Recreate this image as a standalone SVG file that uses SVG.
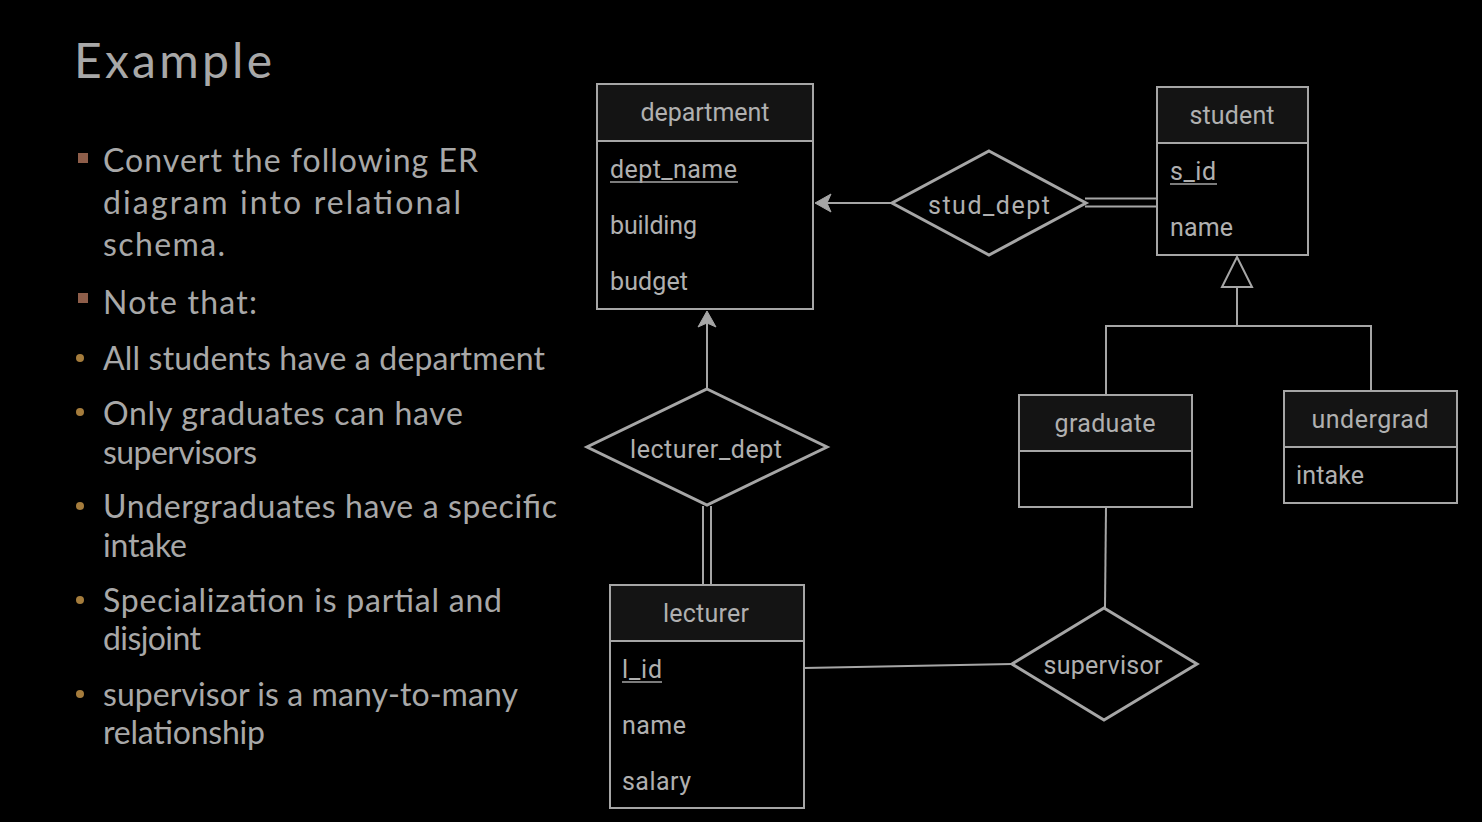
<svg xmlns="http://www.w3.org/2000/svg" width="1482" height="822" viewBox="0 0 1482 822">
<style>
.bg{fill:#000}
.slide{font-family:"Lato","Open Sans","DejaVu Sans",sans-serif;fill:#a8a8a8}
.b{font-size:32px}
.ent{fill:#000;stroke:#a6a6a6;stroke-width:2}
.hdr{fill:#141414;stroke:#a6a6a6;stroke-width:2}
.rel{fill:#000;stroke:#a6a6a6;stroke-width:3}
.t{font-family:"Roboto","Liberation Sans",Arial,sans-serif;font-size:25px;fill:#b0b0b0}
.c{text-anchor:middle}
.ln{stroke:#a6a6a6;stroke-width:2;fill:none}
.ul{stroke:#a6a6a6;stroke-width:1.5}
.ah{fill:#a6a6a6;stroke:#a6a6a6;stroke-width:1}
</style>
<rect class="bg" x="0" y="0" width="1482" height="822"/>

<g id="slide-text" class="slide">
<text x="74" y="78" font-size="48" textLength="198">Example</text>
<rect x="78" y="153" width="10" height="10" fill="#8e5e4a"/>
<rect x="78" y="293" width="10" height="10" fill="#8e5e4a"/>
<circle cx="80" cy="358" r="4" fill="#a57c3c"/>
<circle cx="80" cy="412" r="4" fill="#a57c3c"/>
<circle cx="80" cy="506" r="4" fill="#a57c3c"/>
<circle cx="80" cy="600" r="4" fill="#a57c3c"/>
<circle cx="80" cy="694" r="4" fill="#a57c3c"/>
<text class="b" x="103" y="172" textLength="375">Convert the following ER</text>
<text class="b" x="103" y="214" textLength="358">diagram into relational</text>
<text class="b" x="103" y="256" textLength="122">schema.</text>
<text class="b" x="103" y="314" textLength="154">Note that:</text>
<text class="b" x="103" y="370" textLength="442">All students have a department</text>
<text class="b" x="103" y="425" textLength="360">Only graduates can have</text>
<text class="b" x="103" y="464" textLength="154">supervisors</text>
<text class="b" x="103" y="518" textLength="454">Undergraduates have a specific</text>
<text class="b" x="103" y="557" textLength="84">intake</text>
<text class="b" x="103" y="612" textLength="399">Specialization is partial and</text>
<text class="b" x="103" y="650" textLength="98">disjoint</text>
<text class="b" x="103" y="706" textLength="415">supervisor is a many-to-many</text>
<text class="b" x="103" y="744" textLength="162">relationship</text>
</g>

<g id="connectors">
<line class="ln" x1="891" y1="203" x2="826" y2="203"/>
<polygon class="ah" points="815,203 831,194 827,203 831,212"/>
<line class="ln" x1="1085" y1="198.5" x2="1157" y2="198.5"/>
<line class="ln" x1="1085" y1="206.5" x2="1157" y2="206.5"/>
<line class="ln" x1="707" y1="389" x2="707" y2="322"/>
<polygon class="ah" points="707,311 716,327 707,323 698,327"/>
<line class="ln" x1="703" y1="506" x2="703" y2="585"/>
<line class="ln" x1="711" y1="506" x2="711" y2="585"/>
<polygon points="1237,257 1252,287 1222,287" fill="#000" stroke="#a6a6a6" stroke-width="2"/>
<line class="ln" x1="1237" y1="287" x2="1237" y2="326"/>
<polyline class="ln" points="1106,395 1106,326 1371,326 1371,391"/>
<line class="ln" x1="1106" y1="507" x2="1105" y2="608"/>
<line class="ln" x1="804" y1="668" x2="1012" y2="664"/>
</g>

<g id="department">
<rect class="ent" x="597" y="84" width="216" height="225"/>
<rect class="hdr" x="597" y="84" width="216" height="57"/>
<text class="t c" x="705" y="121" textLength="129">department</text>
<text class="t" x="610" y="178" textLength="127">dept_name</text>
<line class="ul" x1="610" y1="182" x2="738" y2="182"/>
<text class="t" x="610" y="234" textLength="87">building</text>
<text class="t" x="610" y="290" textLength="78">budget</text>
</g>

<g id="student">
<rect class="ent" x="1157" y="87" width="151" height="168"/>
<rect class="hdr" x="1157" y="87" width="151" height="56"/>
<text class="t c" x="1232" y="124" textLength="85">student</text>
<text class="t" x="1170" y="180" textLength="46">s_id</text>
<line class="ul" x1="1170" y1="184" x2="1217" y2="184"/>
<text class="t" x="1170" y="236" textLength="63">name</text>
</g>

<g id="graduate">
<rect class="ent" x="1019" y="395" width="173" height="112"/>
<rect class="hdr" x="1019" y="395" width="173" height="56"/>
<text class="t c" x="1105" y="432" textLength="101">graduate</text>
</g>

<g id="undergrad">
<rect class="ent" x="1284" y="391" width="173" height="112"/>
<rect class="hdr" x="1284" y="391" width="173" height="56"/>
<text class="t c" x="1370" y="428" textLength="117">undergrad</text>
<text class="t" x="1296" y="484" textLength="68">intake</text>
</g>

<g id="lecturer">
<rect class="ent" x="610" y="585" width="194" height="223"/>
<rect class="hdr" x="610" y="585" width="194" height="56"/>
<text class="t c" x="706" y="622" textLength="86">lecturer</text>
<text class="t" x="622" y="678" textLength="40">l_id</text>
<line class="ul" x1="622" y1="682" x2="662" y2="682"/>
<text class="t" x="622" y="734" textLength="64">name</text>
<text class="t" x="622" y="790" textLength="69">salary</text>
</g>

<g id="stud_dept">
<polygon class="rel" points="989,151 1086,203 989,255 892,203"/>
<text class="t c" x="989" y="214" font-size="26" textLength="122">stud_dept</text>
</g>

<g id="lecturer_dept">
<polygon class="rel" points="707,389 827,447 707,505 587,447"/>
<text class="t c" x="706" y="458" textLength="152">lecturer_dept</text>
</g>

<g id="supervisor">
<polygon class="rel" points="1104,608 1197,664 1104,720 1012,664"/>
<text class="t c" x="1103" y="674" textLength="119">supervisor</text>
</g>
</svg>
